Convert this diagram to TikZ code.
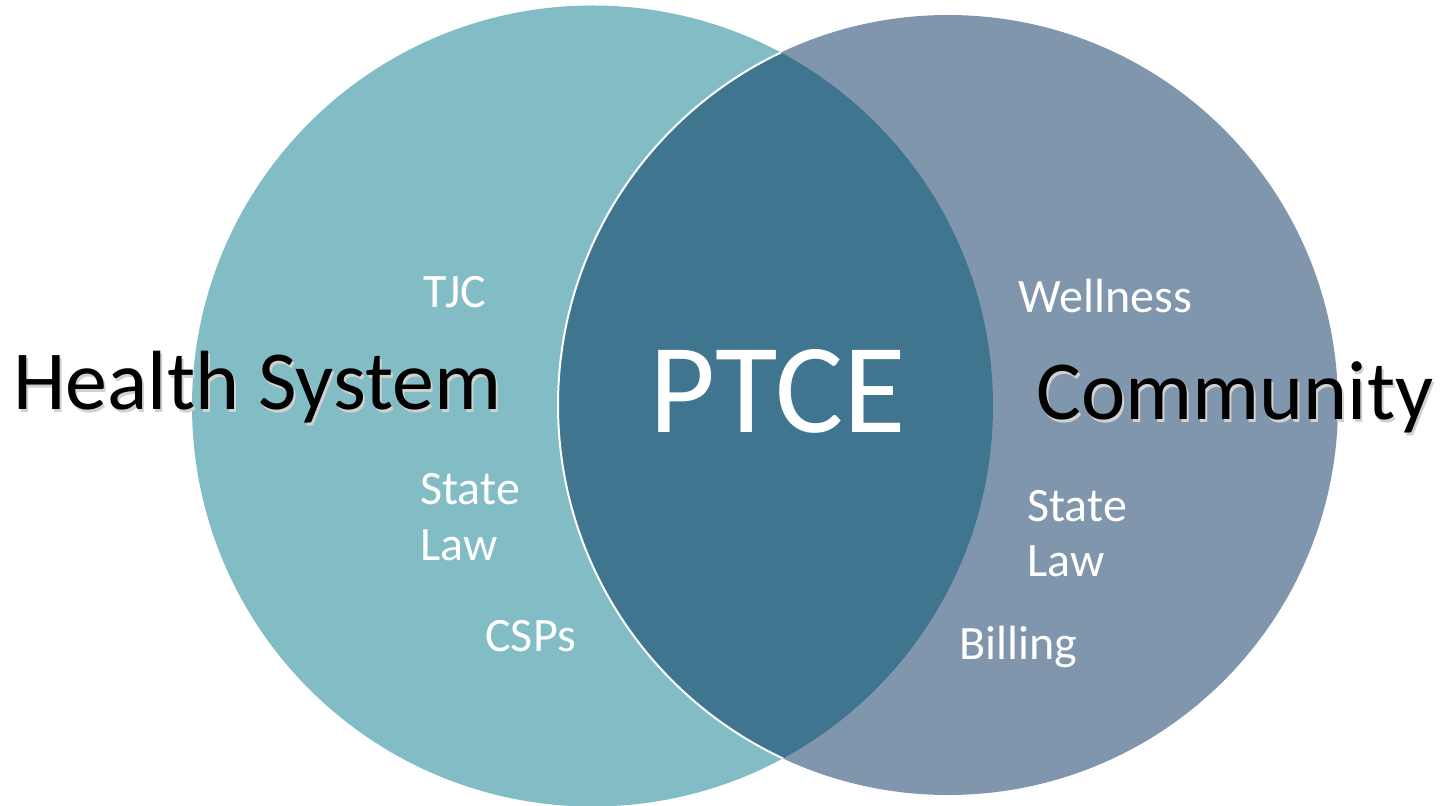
\documentclass[tikz,border=0pt]{standalone}
\usepackage{fontspec}
\setmainfont{Carlito}
\usepackage{tikz}

\definecolor{hsteal}{RGB}{130,188,196}
\definecolor{cmgrey}{RGB}{128,150,173}
\definecolor{ptblue}{RGB}{63,117,143}
\newcommand{\shadowed}[1]{\rlap{\hspace{1pt}\raisebox{-1.2pt}{\textcolor{black!18}{#1}}}#1}

\begin{document}
\begin{tikzpicture}[x=0.5pt, y=-0.5pt,
    big/.style={anchor=base west, inner sep=0pt, font=\fontsize{42}{50}\selectfont},
    small/.style={anchor=base west, inner sep=0pt, text=white, align=left, font=\fontsize{24}{28}\selectfont}]
    \useasboundingbox (0, 0) rectangle (1440, 806);
    \coordinate (hs) at (592.5, 406);
    \coordinate (cm) at (948, 405);
    
    \fill [hsteal] (hs) circle [radius=400.5];
    \fill [cmgrey] (cm) circle [radius=390];
    \begin{scope}
        \clip (hs) circle [radius=400.5];
        \fill [ptblue] (cm) circle [radius=390];
        \draw [white, line width=1pt] (cm) circle [radius=390];
    \end{scope}
    
    \node [big] (a) at (13, 410) {\shadowed{Health System}};
    \node [big] (b) at (1036, 420) {\shadowed{Community}};
    \node [anchor=base, inner sep=0pt, text=white, font=\fontsize{64}{70}\selectfont] (c) at (778, 433) {PTCE};
    \node [small] (d) at (423, 308) {TJC};
    \node [small] (e) at (420, 560) {State\\Law};
    \node [small] (f) at (485, 651) {CSPs};
    \node [small] (g) at (1018, 313) {Wellness};
    \node [small] (h) at (1027, 577) {State\\Law};
    \node [small] (i) at (959, 660) {Billing};
    
\end{tikzpicture}
\end{document}
